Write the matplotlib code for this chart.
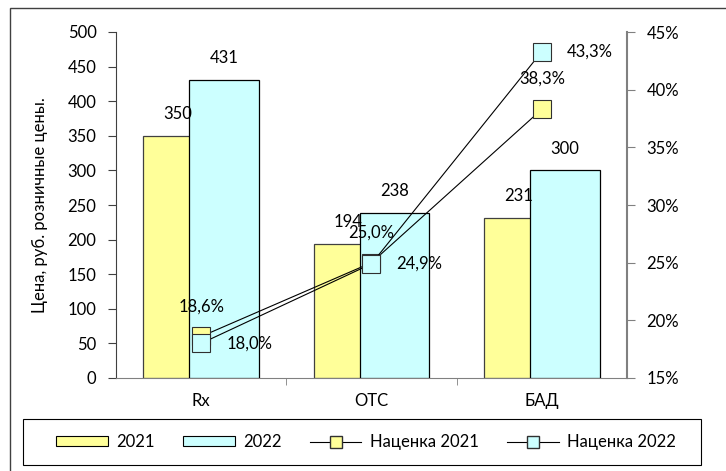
import matplotlib
matplotlib.use("Agg")
import matplotlib.pyplot as plt
from matplotlib.patches import Rectangle
from matplotlib.lines import Line2D
from matplotlib.ticker import FuncFormatter

plt.rcParams['font.family'] = ['Lato', 'DejaVu Sans']
plt.rcParams['font.size'] = 12

# data
categories = ['Rx', 'OTC', 'БАД']
price_2021 = [350, 194, 231]
price_2022 = [431, 238, 300]
markup_2021 = [18.6, 25.0, 38.3]
markup_2022 = [18.0, 24.9, 43.3]
y_label = 'Цена, руб. розничные цены.'

yellow = '#ffff99'
cyan = '#ccffff'
grey = '#808080'

fig = plt.figure(figsize=(7.26, 4.71), dpi=100)
ax = fig.add_axes([116 / 726, 1 - 378 / 471, 511 / 726, 346 / 471])
ax2 = ax.twinx()

x = list(range(len(categories)))
w = 0.41
off = 0.135
ax.bar([i - off for i in x], price_2021, w, color=yellow, edgecolor='#404040', linewidth=0.9, zorder=2)
ax.bar([i + off for i in x], price_2022, w, color=cyan, edgecolor='black', linewidth=0.9, zorder=3)

for i in x:
    ax.annotate(str(price_2021[i]), (i - off, price_2021[i]), xytext=(0, 10),
                textcoords='offset points', ha='center', va='bottom', zorder=5)
    ax.annotate(str(price_2022[i]), (i + off, price_2022[i]), xytext=(0, 10),
                textcoords='offset points', ha='center', va='bottom', zorder=5)

ax.set_xlim(-0.5, 2.5)
ax.set_ylim(0, 500)
ax.set_yticks(range(0, 501, 50))
ax.set_xticks(x)
ax.set_xticklabels(categories)
ax.set_xticks([0.5, 1.5], minor=True)
ax.tick_params(axis='x', which='major', length=0, pad=11)
ax.tick_params(axis='x', which='minor', length=5, direction='out', color=grey)
ax.tick_params(axis='y', length=6, direction='out', color='#404040', pad=8)
ax.set_ylabel(y_label, labelpad=14)
for s in ['top', 'right']:
    ax.spines[s].set_visible(False)
ax.spines['left'].set_color('#404040')
ax.spines['bottom'].set_color(grey)

# markup lines on the right axis
ax2.set_ylim(15, 45)
ax2.set_yticks(range(15, 46, 5))
ax2.yaxis.set_major_formatter(FuncFormatter(lambda v, p: '%d%%' % v))
ax2.tick_params(axis='y', length=6, direction='out', color=grey, pad=8)
for s in ['top', 'left', 'bottom']:
    ax2.spines[s].set_visible(False)
ax2.spines['right'].set_color(grey)
ax2.spines['right'].set_linewidth(1.5)

ax2.plot(x, markup_2021, color='black', linewidth=0.8, marker='s', markersize=13,
         markerfacecolor=yellow, markeredgecolor='#303030', markeredgewidth=0.8, zorder=4)
ax2.plot(x, markup_2022, color='black', linewidth=0.8, marker='s', markersize=13,
         markerfacecolor=cyan, markeredgecolor='#303030', markeredgewidth=0.8, zorder=4)

for i in x:
    ax2.annotate(('%.1f%%' % markup_2021[i]).replace('.', ','), (i, markup_2021[i]),
                 xytext=(0, 16), textcoords='offset points', ha='center', va='bottom')
    ax2.annotate(('%.1f%%' % markup_2022[i]).replace('.', ','), (i, markup_2022[i]),
                 xytext=(18, 0), textcoords='offset points', ha='left', va='center')

handles = [
    Rectangle((0, 0), 1, 1, facecolor=yellow, edgecolor='black', linewidth=0.8),
    Rectangle((0, 0), 1, 1, facecolor=cyan, edgecolor='black', linewidth=0.8),
    Line2D([], [], color='black', linewidth=0.8, marker='s', markersize=8,
           markerfacecolor=yellow, markeredgecolor='#303030'),
    Line2D([], [], color='black', linewidth=0.8, marker='s', markersize=8,
           markerfacecolor=cyan, markeredgecolor='#303030'),
]
labels = ['2021', '2022', 'Наценка 2021', 'Наценка 2022']
leg = fig.legend(handles, labels, ncol=4, loc='center',
                 bbox_to_anchor=(366 / 726, 1 - 442 / 471),
                 frameon=False, handlelength=3.1, handleheight=0.55,
                 handletextpad=0.5, columnspacing=1.7, fontsize=12)

# legend box drawn separately to get the wide frame
fig.add_artist(Rectangle((23 / 726, 1 - 465 / 471), 678 / 726, 46 / 471,
                         transform=fig.transFigure, fill=False,
                         edgecolor='black', linewidth=0.8))

# outer chart border (only left and top visible in the reference)
fig.add_artist(Rectangle((10 / 726, -0.1), 1.2, 1 - 8 / 471 + 0.1,
                         transform=fig.transFigure, fill=False,
                         edgecolor='#404040', linewidth=1.0))

fig.savefig('out.png', dpi=100)
